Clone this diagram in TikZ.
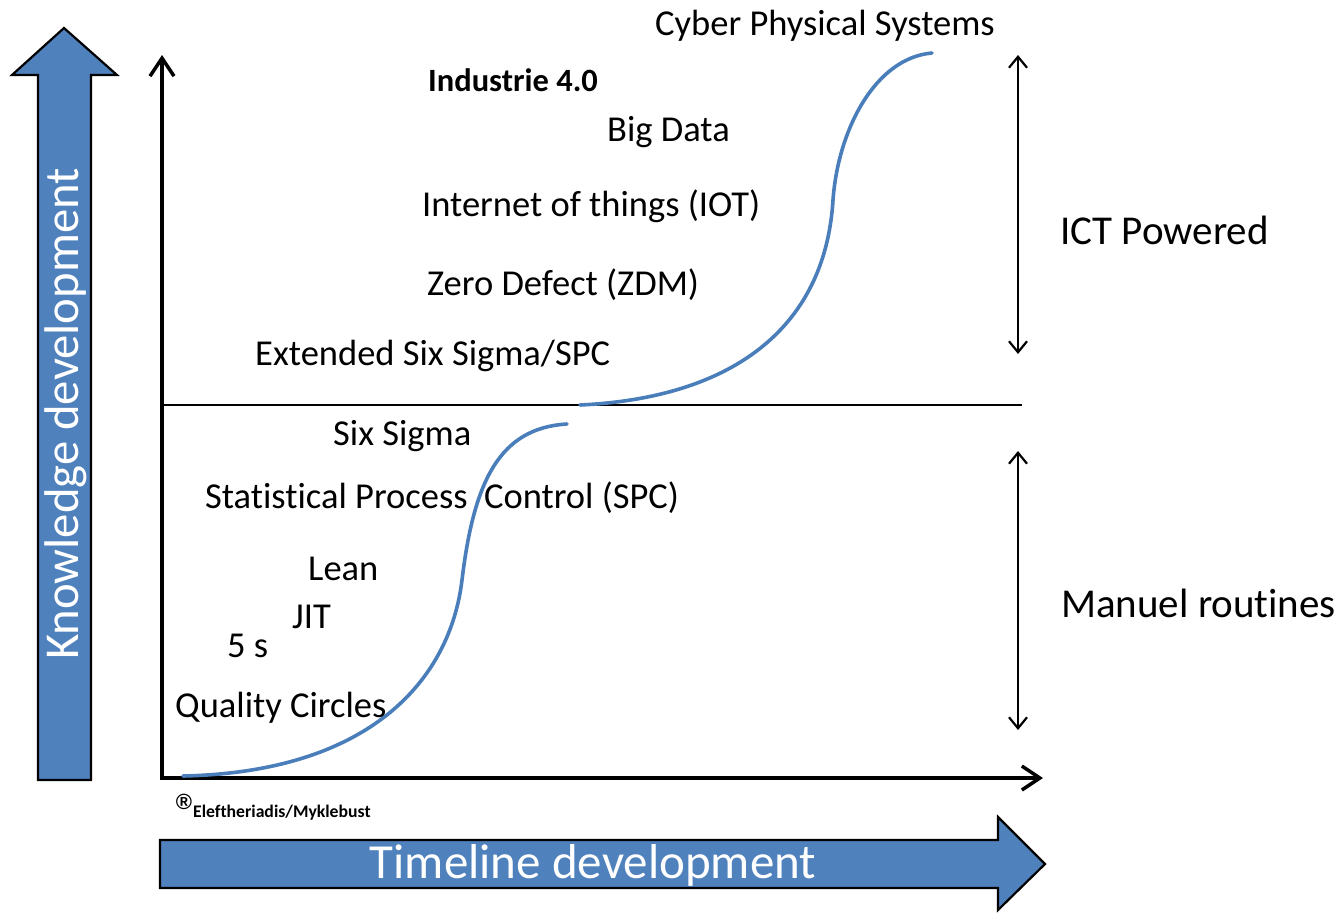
\documentclass[tikz,border=0pt]{standalone}
\usepackage{fontspec}
\setmainfont{Carlito}[Ligatures=NoCommon]
\newfontfamily\regfont{Liberation Sans}
\usetikzlibrary{arrows.meta}
\definecolor{blockblue}{HTML}{4F81BD}
\definecolor{curveblue}{HTML}{4A7EBB}
\tikzset{
  lbl/.style={anchor=base west, inner sep=0pt, font=\fontsize{36.5}{40}\selectfont},
  biglbl/.style={anchor=base west, inner sep=0pt, font=\fontsize{41}{46}\selectfont},
  blockarrow/.style={fill=blockblue, draw=black, line width=2.2pt, line join=miter},
  axisline/.style={line width=4pt, -{Straight Barb[length=18pt,width=24pt,line width=3.5pt]}},
  spanarrow/.style={line width=2.2pt, {Straight Barb[length=11pt,width=18pt,line width=2.2pt]}-{Straight Barb[length=11pt,width=18pt,line width=2.2pt]}},
  scurve/.style={curveblue, line width=3.6pt, line cap=round}
}
\begin{document}
\begin{tikzpicture}[x=1pt,y=-1pt]
\useasboundingbox (0,0) rectangle (1340,913);
% block arrows
\draw[blockarrow] (38,780) -- (91,780) -- (91,75) -- (117,75) -- (64,28) -- (12,75) -- (38,75) -- cycle;
\node[rotate=90, text=white, inner sep=0pt, font=\fontsize{48.7}{52}\selectfont] (kd) at (66,414) {Knowledge development};
\draw[blockarrow] (160,840) -- (998,840) -- (998,817) -- (1045,864) -- (998,910) -- (998,888) -- (160,888) -- cycle;
\node[text=white, inner sep=0pt, anchor=base, font=\fontsize{49}{52}\selectfont] (td) at (593,878) {Timeline development};
% axes
\coordinate (ybot) at (162,780);
\coordinate (ytop) at (162,55);
\coordinate (xend) at (1043,778);
\coordinate (xstart) at (160,778);
\draw[axisline] (ybot) -- (ytop);
\draw[axisline] (xstart) -- (xend);
% separator
\coordinate (sepL) at (163,405);
\coordinate (sepR) at (1022,405);
\draw[line width=1.5pt] (sepL) -- (sepR);
% span arrows
\coordinate (ua) at (1018,55);
\coordinate (ub) at (1018,354);
\coordinate (la) at (1018,451);
\coordinate (lb) at (1018,730);
\draw[spanarrow] (ua) -- (ub);
\draw[spanarrow] (la) -- (lb);
% curves
\coordinate (c1a) at (183,776);
\coordinate (c1m) at (462,580);
\coordinate (c1b) at (567,424);
\coordinate (c2a) at (580,405);
\coordinate (c2m) at (833,200);
\coordinate (c2b) at (932,53);
\draw[scurve] (c1a) .. controls (370,772) and (450,680) .. (c1m)
                    .. controls (474,480) and (500,428) .. (c1b);
\draw[scurve] (c2a) .. controls (730,398) and (825,330) .. (c2m)
                    .. controls (838,130) and (875,58) .. (c2b);
% labels
\node[lbl] (cps) at (655,35) {Cyber Physical Systems};
\node[anchor=base west, inner sep=0pt, font=\fontsize{32.5}{36}\selectfont\bfseries] (i40) at (428,91) {Industrie 4.0};
\node[lbl] (bd) at (607,141) {Big Data};
\node[lbl] (iot) at (422,216) {Internet of things (IOT)};
\node[lbl] (zdm) at (427,295) {Zero Defect (ZDM)};
\node[lbl] (ess) at (255,365) {Extended Six Sigma/SPC};
\node[lbl] (ss) at (333,445) {Six Sigma};
\node[lbl] (spc) at (205,508) {Statistical Process\ \ Control (SPC)};
\node[lbl] (lean) at (308,580) {Lean};
\node[lbl] (jit) at (292,628) {JIT};
\node[lbl] (fives) at (227,657) {5 s};
\node[lbl] (qc) at (175,717) {Quality Circles};
\node[biglbl] (ict) at (1060,244) {ICT Powered};
\node[biglbl] (man) at (1061,617) {Manuel routines};
\node[inner sep=0pt, font=\fontsize{22}{24}\selectfont\regfont\bfseries] (reg) at (184,802) {®};
\node[anchor=base west, inner sep=0pt, font=\fontsize{17.7}{20}\selectfont\bfseries] (cr) at (193,817) {Eleftheriadis/Myklebust};
\end{tikzpicture}
\end{document}
